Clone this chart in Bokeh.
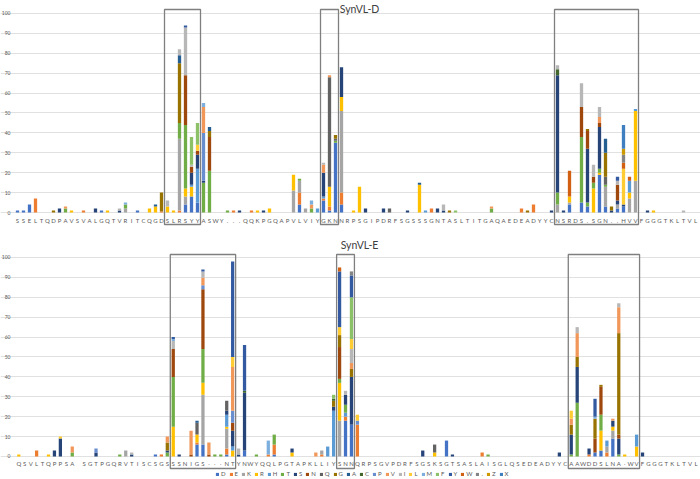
from bokeh.plotting import figure
from bokeh.models import Range1d, FixedTicker, ColumnDataSource, Legend, LegendItem, Grid
from bokeh.layouts import column
from bokeh.embed import file_html
from bokeh.resources import INLINE
from bokeh.core.properties import value

# ---------------- data ----------------
RESIDUES = ["D", "E", "K", "R", "H", "T", "S", "N", "Q", "G", "A", "C",
            "P", "V", "I", "L", "M", "F", "Y", "W", ".", "Z", "X"]
COLORS = ["#4472C4", "#ED7D31", "#A5A5A5", "#FFC000", "#5B9BD5", "#70AD47",
          "#264478", "#9E480E", "#636363", "#997300", "#255E91", "#43682B",
          "#698ED0", "#F1975A", "#B7B7B7", "#FFCD33", "#7CAFDD", "#8CC168",
          "#335AA1", "#D26012", "#848484", "#CC9A00", "#3F7FBF"]

TOP_TITLE = "SynVL-D"
BOTTOM_TITLE = "SynVL-E"
TOP_SEQUENCE = "SSELTQDPAVSVALGQTVRITCQGDSLRSYYASWY...QQKPGQAPVLVIYGKNNRPSGIPDRFSGSSSGNTASLTITGAQAEDEADYYCNSRDS.SGN..HVVFGGGTKLTVL"
BOTTOM_SEQUENCE = "QSVLTQPPSA SGTPGQRVTISCSGSSSNIGS...NTYNWYQQLPGTAPKLLIYSNNQRPSGVPDRFSGSKSGTSASLAISGLQSEDEADYYCAAWDDSLNA.WVFGGGTKLTVL"

# boxed regions (1-based first and last position)
TOP_CDR = [(26, 31), (52, 54), (91, 104)]
BOTTOM_CDR = [(27, 37), (55, 57), (94, 105)]

Y_TICKS = list(range(0, 101, 10))

# SynVL-D : per residue {position: percent}
TOP_D = {1: 1, 2: 1, 3: 4, 15: 1, 21: 1, 29: 4, 30: 8, 31: 5, 48: 4, 52: 6, 53: 1, 54: 35,
         55: 4, 93: 4, 95: 5, 96: 3, 98: 19, 99: 3, 101: 2, 102: 3}
TOP_E = {4: 7, 12: 1, 25: 0.5, 28: 1, 37: 1, 40: 1, 48: 6, 52: 1, 53: 2, 55: 6, 70: 2, 85: 2, 87: 4}
TOP_K = {19: 2, 28: 36, 29: 4, 47: 11, 48: 6, 49: 2, 55: 41, 91: 4, 93: 1, 99: 10, 101: 2,
         103: 7, 104: 16}
TOP_R = {10: 1, 16: 1, 23: 2, 24: 3, 26: 3, 27: 1, 29: 4, 30: 5, 41: 1, 43: 2, 47: 8, 53: 10,
         55: 7, 57: 1, 58: 13, 68: 14, 93: 3, 97: 12, 98: 1, 103: 3, 104: 35, 107: 1}
TOP_H = {30: 1, 31: 17, 51: 2, 52: 1, 69: 1, 103: 6, 104: 1}
TOP_T = {9: 2, 19: 2, 28: 8, 29: 32, 32: 15, 33: 21, 36: 1, 48: 1, 50: 2, 54: 1, 80: 2, 91: 6,
         95: 33, 96: 2, 97: 3, 98: 2, 99: 1}
TOP_S = {8: 2, 14: 2, 18: 1, 30: 6, 31: 7, 32: 1, 38: 1, 42: 1, 52: 12, 55: 15, 59: 2, 62: 2,
         66: 1, 71: 2, 72: 1, 90: 1, 91: 59, 92: 1, 96: 27, 98: 21, 100: 1, 101: 2, 102: 1, 106: 1}
TOP_N = {29: 25, 30: 3, 31: 2, 33: 17, 95: 15, 96: 9, 97: 3, 98: 2, 101: 8}
TOP_Q = {53: 55, 54: 1, 63: 2, 99: 4}
TOP_G = {7: 1, 25: 9.5, 28: 30, 33: 3, 54: 2, 73: 1, 86: 1, 96: 1, 99: 12, 100: 2}
TOP_A = {24: 1, 28: 4, 33: 2, 68: 1, 99: 7}
TOP_C = {91: 3}
TOP_P = {32: 24}
TOP_V = {9: 1, 32: 13, 50: 2, 52: 4, 53: 1, 80: 1, 98: 3}
TOP_I = {18: 1, 26: 3, 28: 3, 29: 24, 30: 1, 52: 1, 72: 3, 91: 2, 95: 12, 97: 6, 98: 5,
         101: 2, 112: 1}
TOP_L = {31: 3, 102: 18}
TOP_M = {19: 1, 32: 2, 50: 2}
TOP_F = {30: 14, 31: 11, 74: 1}
TOP_Y = {29: 1, 101: 2}
TOP_W = {93: 13, 102: 3, 103: 2}
TOP_DOT = {102: 4}
TOP_Z = {102: 3}
TOP_X = {102: 12}

# SynVL-E : per residue {position: percent}
BOT_D = {24: 1, 31: 6, 32: 6, 36: 1, 39: 3, 44: 1, 56: 18, 57: 16, 73: 8, 98: 2, 99: 3, 101: 9}
BOT_E = {4: 3, 25: 1, 31: 1, 36: 3, 43: 1, 44: 5, 52: 1, 56: 2, 58: 16, 79: 2, 97: 1, 100: 2}
BOT_K = {19: 3, 32: 25, 36: 10, 52: 2, 55: 18, 100: 3, 101: 4}
BOT_R = {1: 1, 6: 1, 27: 15, 31: 4, 32: 6, 36: 1, 37: 3, 47: 2, 55: 19, 71: 2, 99: 10,
         101: 2, 103: 1, 105: 5}
BOT_H = {36: 6, 37: 2, 53: 5, 54: 23, 56: 2, 100: 3, 105: 6}
BOT_T = {10: 2, 18: 1, 26: 2, 27: 25, 32: 17, 34: 1, 35: 1, 41: 1, 44: 5, 55: 2, 56: 4, 80: 1,
         94: 1, 95: 27, 99: 8, 102: 1}
BOT_S = {7: 3, 8: 9, 14: 2, 20: 1, 26: 1, 28: 1, 36: 2, 37: 8, 38: 1, 39: 29, 47: 2, 54: 2,
         56: 5, 57: 24, 69: 3, 74: 1, 92: 2, 94: 10, 95: 18, 97: 3, 101: 3, 102: 8, 106: 2}
BOT_N = {27: 14, 30: 1, 32: 30, 33: 1, 37: 4, 55: 16, 98: 7, 99: 14, 102: 2}
BOT_Q = {31: 6, 36: 5, 71: 4}
BOT_G = {26: 4, 54: 3, 55: 6, 57: 4, 94: 5, 95: 5, 98: 10, 99: 1, 102: 51}
BOT_A = {31: 1}
BOT_C = {39: 1, 54: 1}
BOT_P = {14: 2, 32: 2, 37: 6, 58: 2}
BOT_V = {10: 3, 26: 3, 30: 12, 32: 4, 33: 6, 37: 22, 51: 2, 57: 3, 94: 3, 95: 12, 101: 1, 102: 13}
BOT_I = {20: 1, 27: 4, 32: 3, 38: 3, 56: 2, 57: 7, 95: 3, 102: 2}
BOT_L = {8: 1, 37: 5, 55: 4, 57: 5, 58: 3, 94: 4}
BOT_M = {27: 1, 43: 7, 98: 1}
BOT_F = {54: 2, 57: 21}
BOT_Y = {27: 1, 32: 1, 37: 48, 39: 23, 55: 28, 57: 11, 98: 9}
BOT_W = {55: 2}
BOT_DOT = {57: 2}
BOT_Z = {}
BOT_X = {}

TOP_SERIES = [TOP_D, TOP_E, TOP_K, TOP_R, TOP_H, TOP_T, TOP_S, TOP_N, TOP_Q, TOP_G, TOP_A,
              TOP_C, TOP_P, TOP_V, TOP_I, TOP_L, TOP_M, TOP_F, TOP_Y, TOP_W, TOP_DOT, TOP_Z, TOP_X]
BOT_SERIES = [BOT_D, BOT_E, BOT_K, BOT_R, BOT_H, BOT_T, BOT_S, BOT_N, BOT_Q, BOT_G, BOT_A,
              BOT_C, BOT_P, BOT_V, BOT_I, BOT_L, BOT_M, BOT_F, BOT_Y, BOT_W, BOT_DOT, BOT_Z, BOT_X]

# ---------------- styling ----------------
FONT = "Lato"
TEXT_GRAY = "#595959"
GRID = "#D9D9D9"
BOX_COLOR = "#7F7F7F"
WIDTH = 700
BAR_WIDTH = 0.55


def make_panel(seq, series, cdrs, title, height, x_range, y_range, plot_left,
               tick_x, label_y, title_y, box_top, box_bottom):
    n = len(seq)
    data = {"x": list(range(n))}
    keys = []
    for k, ser in enumerate(series):
        col = "s%d" % k
        vals = [0.0] * n
        for pos, v in ser.items():
            vals[pos - 1] = v
        data[col] = vals
        keys.append(col)
    src = ColumnDataSource(data)

    p = figure(width=WIDTH, height=height,
               x_range=Range1d(*x_range), y_range=Range1d(*y_range),
               output_backend="svg", toolbar_location=None,
               x_axis_location=None, y_axis_location=None,
               min_border_left=0, min_border_right=0,
               min_border_top=0, min_border_bottom=0)
    p.outline_line_color = None
    p.background_fill_color = "white"
    p.xgrid.grid_line_color = None
    p.ygrid.grid_line_color = None
    p.add_layout(Grid(dimension=1, ticker=FixedTicker(ticks=Y_TICKS),
                      bounds=(plot_left, x_range[1]),
                      grid_line_color=GRID, grid_line_width=0.8), "center")

    # y tick labels
    tick_src = ColumnDataSource(dict(y=Y_TICKS, t=[str(t) for t in Y_TICKS]))
    p.text(x=tick_x, y="y", text="t", source=tick_src, text_align="right",
           text_baseline="middle", text_font=value(FONT), text_font_size="5px",
           text_color=TEXT_GRAY)

    rends = p.vbar_stack(keys, x="x", width=BAR_WIDTH, color=COLORS,
                         line_color=None, source=src)

    lab = ColumnDataSource(dict(x=list(range(n)), t=list(seq)))
    p.text(x="x", y=label_y, text="t", source=lab, text_align="center",
           text_baseline="middle", text_font=value(FONT), text_font_size="6px",
           text_color=TEXT_GRAY)

    p.quad(left=[a - 1.5 for a, b in cdrs], right=[b - 0.5 for a, b in cdrs],
           top=box_top, bottom=box_bottom, fill_alpha=0,
           line_color=BOX_COLOR, line_width=1.3)

    tx = x_range[0] + 0.5129 * (x_range[1] - x_range[0])
    p.text(x=[tx], y=[title_y], text=[title], text_align="center",
           text_baseline="middle", text_font=value(FONT), text_font_size="10.5px",
           text_color="#404040")
    return p, rends


p1, _ = make_panel(TOP_SEQUENCE, TOP_SERIES, TOP_CDR, TOP_TITLE, 232,
                   (-2.833, 113.833), (-10.05, 106.53), plot_left=-0.5,
                   tick_x=-1.17, label_y=-4.27, title_y=102.26,
                   box_top=102.0, box_bottom=-6.03)
p2, r2 = make_panel(BOTTOM_SEQUENCE, BOT_SERIES, BOTTOM_CDR, BOTTOM_TITLE, 247,
                    (-3.081, 114.758), (-11.56, 112.56), plot_left=-0.724,
                    tick_x=-1.40, label_y=-3.27, title_y=106.03,
                    box_top=101.5, box_bottom=-6.03)

items = [LegendItem(label=r, renderers=[rd]) for r, rd in zip(RESIDUES, r2)]
legend = Legend(items=items, orientation="horizontal", location=(215, 2),
                glyph_width=4, glyph_height=4, label_height=6, label_width=0,
                label_text_font=FONT, label_text_font_size="6px",
                label_text_color=TEXT_GRAY, label_standoff=2, spacing=3,
                padding=0, margin=0, background_fill_alpha=0,
                border_line_color=None)
p2.add_layout(legend, "center")

layout = column(p1, p2)
open("out.html", "w").write(file_html(layout, INLINE))
